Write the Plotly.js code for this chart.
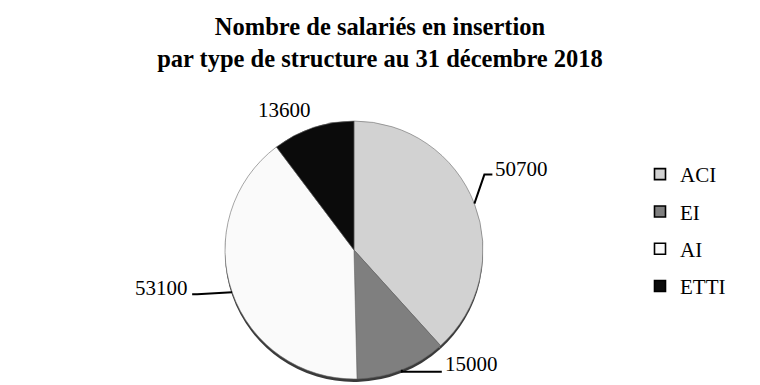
<!DOCTYPE html>
<html>
<head>
<meta charset="utf-8">
<script src="https://cdn.plot.ly/plotly-3.0.1.min.js"></script>
<style>html,body{margin:0;padding:0;background:#fff;}</style>
</head>
<body>
<div id="chart" style="width:760px;height:385px;"></div>
<script>
// ---- data ----
const categories = ["ACI", "EI", "AI", "ETTI"];
const values = [50700, 15000, 53100, 13600];
const valueLabels = ["50700", "15000", "53100", "13600"];
const sliceColors = ["#d2d2d2", "#7f7f7f", "#fafafa", "#0b0b0b"];

// ---- layout geometry (pixels) ----
const W = 760, H = 385;
const cx = 354, cy = 250, R = 129;
const px = x => x / W;
const py = y => 1 - y / H;

// label styles: elbow offset, tail offset, text offset, anchor
const labelStyle = [
  {elbow: [10, -29], tail: [8, 0], text: [1, -6], anchor: "left", line: true},
  {elbow: [0, 2], tail: [40, 0], text: [1, -8], anchor: "left", line: true},
  {elbow: [-35, 2], tail: [-5, 0], text: [-2, -6], anchor: "right", line: true},
  {elbow: [0, 0], tail: [0, 0], text: [-29, -18], anchor: "center", line: false}
];

const total = values.reduce((a, b) => a + b, 0);
let cum = 0;
const shapes = [], annotations = [];
values.forEach((v, i) => {
  const mid = (cum + v / 2) / total * 2 * Math.PI;
  cum += v;
  const p0 = [cx + R * Math.sin(mid), cy - R * Math.cos(mid)];
  const s = labelStyle[i];
  const p1 = [p0[0] + s.elbow[0], p0[1] + s.elbow[1]];
  const p2 = [p1[0] + s.tail[0], p1[1] + s.tail[1]];
  if (s.line) {
    shapes.push({
      type: "path", xref: "paper", yref: "paper",
      path: `M ${px(p0[0])},${py(p0[1])} L ${px(p1[0])},${py(p1[1])} L ${px(p2[0])},${py(p2[1])}`,
      line: {color: "#000", width: 2}
    });
  }
  const t = s.line ? [p2[0] + s.text[0], p2[1] + s.text[1]] : [p0[0] + s.text[0], p0[1] + s.text[1]];
  annotations.push({
    xref: "paper", yref: "paper", x: px(t[0]), y: py(t[1]),
    xanchor: s.anchor, yanchor: "middle", showarrow: false,
    text: valueLabels[i],
    font: {family: "Liberation Serif, Times New Roman, serif", size: 21, color: "#000"}
  });
});

const shadowOffset = 3;
const traces = [
  {
    type: "pie", values: values, labels: categories, sort: false,
    direction: "clockwise", rotation: 0, textinfo: "none", hoverinfo: "skip",
    showlegend: false,
    marker: {colors: categories.map(() => "#3a3a3a"), line: {width: 0}},
    domain: {x: [px(cx - R), px(cx + R)], y: [py(cy + R + shadowOffset), py(cy - R + shadowOffset)]}
  },
  {
    type: "pie", values: values, labels: categories, sort: false,
    direction: "clockwise", rotation: 0, textinfo: "none",
    showlegend: false,
    marker: {colors: sliceColors, line: {color: "#6a6a6a", width: 0.6}},
    domain: {x: [px(cx - R), px(cx + R)], y: [py(cy + R), py(cy - R)]}
  }
];
categories.forEach((c, i) => {
  traces.push({
    type: "scatter", x: [null], y: [null], mode: "markers", name: c,
    legendgroup: c, showlegend: true, hoverinfo: "skip",
    marker: {symbol: "square", size: 11, color: sliceColors[i], line: {color: "#000", width: 1.6}}
  });
});

const layout = {
  width: W, height: H,
  margin: {l: 0, r: 0, t: 0, b: 0},
  paper_bgcolor: "#fff", plot_bgcolor: "rgba(0,0,0,0)",
  font: {family: "Liberation Serif, Times New Roman, serif", color: "#000"},
  title: {
    text: "Nombre de salariés en insertion<br>par type de structure au 31 décembre 2018",
    font: {family: "Liberation Serif, Times New Roman, serif", size: 24.5, weight: "bold", color: "#000"},
    x: 0.5, xref: "paper", xanchor: "center",
    y: 1 - 35 / H, yref: "container", yanchor: "top"
  },
  xaxis: {visible: false}, yaxis: {visible: false},
  showlegend: true,
  legend: {
    x: px(640), y: py(154), xanchor: "left", yanchor: "top",
    font: {family: "Liberation Serif, Times New Roman, serif", size: 21, color: "#000"},
    tracegroupgap: 7, bgcolor: "rgba(0,0,0,0)", borderwidth: 0
  },
  shapes: shapes,
  annotations: annotations
};

Plotly.newPlot("chart", traces, layout, {displayModeBar: false, staticPlot: true});
</script>
</body>
</html>
